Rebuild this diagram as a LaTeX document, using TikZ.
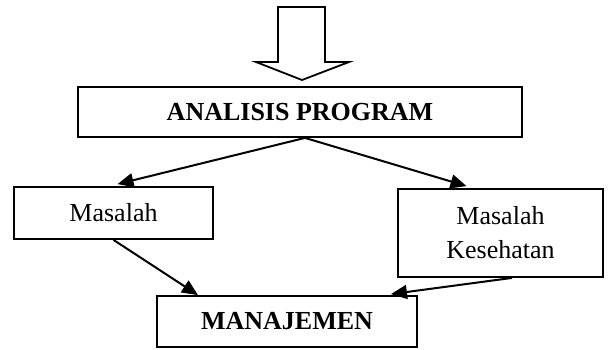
\documentclass[tikz,border=0pt]{standalone}
\usepackage{fontspec}
\setmainfont{Liberation Serif}
\usetikzlibrary{arrows.meta}

\tikzset{
    box/.style={draw, line width=0.9pt, inner sep=0pt, align=center,
        font=\fontsize{13}{17}\selectfont},
    boldbox/.style={box, font=\fontsize{13}{17}\selectfont\bfseries},
    arr/.style={-{Triangle[length=8pt,width=7pt]}, line width=1pt},
}

\begin{document}
\begin{tikzpicture}[x=0.5pt,y=-0.5pt]
    \useasboundingbox (0,0) rectangle (609,349);

    % big hollow arrow on top
    \draw[line width=0.9pt] (278,7) -- (325,7) -- (325,62) -- (349,62) -- (302,80) -- (256,62) -- (278,62) -- cycle;

    \node[boldbox, minimum width=222pt, minimum height=25pt] (analisis) at (300,112) {ANALISIS PROGRAM};

    \node[box, minimum width=99.5pt, minimum height=26pt] (masalah) at (113.5,213) {Masalah};
    \node[box, minimum width=102.5pt, minimum height=44pt] (kesehatan) at (500.5,233) {Masalah\\Kesehatan};

    \node[boldbox, minimum width=130pt, minimum height=25.5pt] (manajemen) at (287,321.5) {MANAJEMEN};

    \draw[arr] ([xshift=2.5pt]analisis.south) -- ([xshift=2pt,yshift=1pt]masalah.north);
    \draw[arr] ([xshift=2.5pt]analisis.south) -- ([xshift=-17pt,yshift=1pt]kesehatan.north);

    \draw[arr] (masalah.south) -- ([xshift=-44.5pt]manajemen.north);
    \draw[arr] ([xshift=5.75pt]kesehatan.south) -- ([xshift=52pt,yshift=0.5pt]manajemen.north);
\end{tikzpicture}
\end{document}
